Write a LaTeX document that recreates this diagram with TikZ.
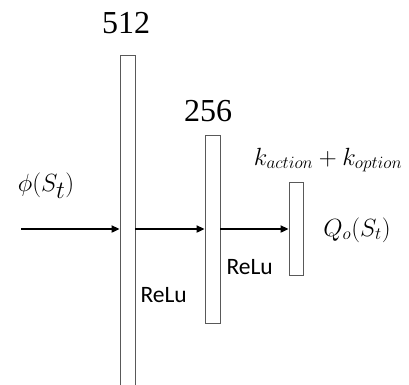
\documentclass[tikz,border=0pt]{standalone}
\usepackage{fontspec}
\setmainfont{Liberation Serif}
\newfontfamily\relufont{Carlito}
\usepackage{tikz}
\usetikzlibrary{arrows.meta, positioning, calc}

\begin{document}
\begin{tikzpicture}[
    x=1pt, y=-1pt,
    layer/.style={rectangle, draw=black!65, fill=white, line width=0.9pt,
                  minimum width=15pt, inner sep=0pt},
    flow/.style={-{Triangle[length=8pt, width=7pt]}, line width=2.2pt},
    sizelabel/.style={font=\fontsize{32}{34}\selectfont},
    actlabel/.style={font=\relufont\fontsize{23.5}{25}\selectfont, anchor=west},
    mathlabel/.style={font=\fontsize{26.5}{29}\selectfont}
  ]
  \useasboundingbox (0,0) rectangle (409,384);

  %% Layers
  \node[layer, minimum height=348pt] (l1) at (127.5,229) {};
  \node[layer, minimum height=188pt] (l2) at (212.5,229) {};
  \node[layer, minimum width=14pt, minimum height=93pt] (l3) at (296,229) {};

  %% Connections
  \coordinate (in) at (21,229);
  \draw[flow] (in) -- (l1.west);
  \draw[flow] (l1.east) -- (l2.west);
  \draw[flow] (l2.east) -- (l3.west);

  %% Sizes
  \node[sizelabel] (n1) at (126,23) {512};
  \node[sizelabel] (n2) at (208,111) {256};
  \node[mathlabel] (k) at (328,160) {$k_{action}+k_{option}$};

  %% Activations
  \node[actlabel] (a1) at (137,295) {ReLu};
  \node[actlabel] (a2) at (223,267) {ReLu};

  %% Input and output
  \node[mathlabel, font=\fontsize{39}{41}\selectfont] (x) at (46,186) {$\phi(S_t)$};
  \node[mathlabel, font=\fontsize{25}{27}\selectfont] (q) at (357,230) {$Q_o(S_t)$};

\end{tikzpicture}
\end{document}
